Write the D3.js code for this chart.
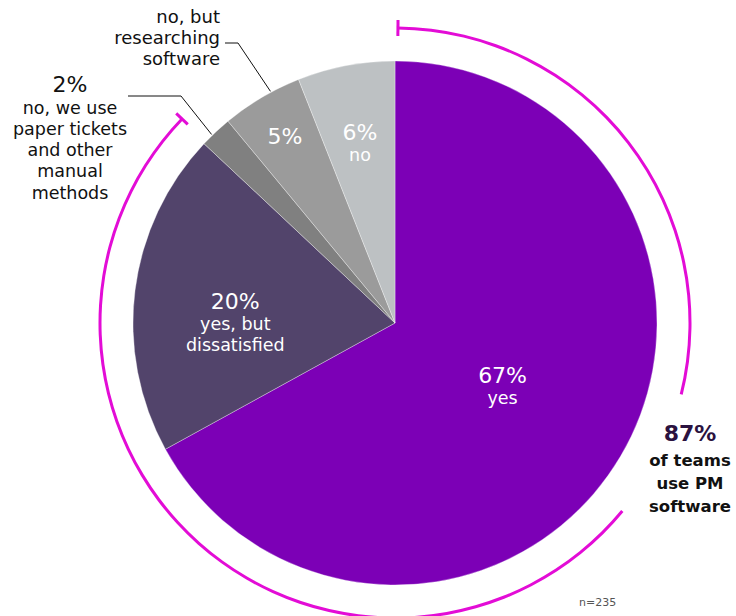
<!DOCTYPE html>
<html><head><meta charset="utf-8">
<script src="https://cdn.jsdelivr.net/npm/d3@7"></script>
<style>
html,body{margin:0;padding:0;background:#fff;}
svg{display:block;font-family:"DejaVu Sans",sans-serif;}
</style></head>
<body><svg id="chart" width="736" height="616"></svg>
<script>
const categories = ["yes", "yes, but dissatisfied", "no, we use paper tickets and other manual methods", "no, but researching software", "no"];
const values = [67, 20, 2, 5, 6];
const colors = ["#7C00B6", "#52446B", "#808080", "#9B9B9B", "#BDC1C3"];
const pctLabels = ["67%", "20%", "2%", "5%", "6%"];
const innerText = [["yes"], ["yes, but", "dissatisfied"], [], [], ["no"]];
const softwareShare = 87;
const sampleNote = "n=235";

const svg = d3.select("#chart");
const cx = 395, cy = 323, R = 262;
const g = svg.append("g").attr("transform", `translate(${cx},${cy})`);

const pie = d3.pie().sort(null).value(d => d)(values);
const arc = d3.arc().innerRadius(0).outerRadius(R);

g.selectAll("path.slice").data(pie).join("path")
  .attr("class", "slice")
  .attr("d", arc)
  .attr("fill", (d, i) => colors[i])
  .attr("stroke", "rgba(255,255,255,0.55)")
  .attr("stroke-width", 0.6);

// inside labels (separate text elements per line)
const labelR = [125, 161, 0, 216, 187];
pie.forEach((d, i) => {
  if (i === 2) return;
  const c = d3.arc().innerRadius(labelR[i]).outerRadius(labelR[i]).centroid(d);
  const n = innerText[i].length;
  const baseY = c[1] - (n * 21) / 2 + 7 + (i === 1 ? 20 : 0) + (i === 4 ? 4 : 0);
  g.append("text").attr("text-anchor", "middle").attr("fill", "#fff")
    .attr("x", c[0]).attr("y", baseY).attr("font-size", 22).text(pctLabels[i]);
  innerText[i].forEach((line, k) => {
    g.append("text").attr("text-anchor", "middle").attr("fill", "#fff")
      .attr("x", c[0]).attr("y", baseY + 21 + k * 21).attr("font-size", 17.5).text(line);
  });
});

// outside labels
const outer = svg.append("g").attr("fill", "#111");
["no, but", "researching", "software"].forEach((l, k) =>
  outer.append("text").attr("text-anchor", "end").attr("font-size", 18)
    .attr("x", 220).attr("y", 23 + k * 21).text(l));
outer.append("text").attr("text-anchor", "middle").attr("x", 70).attr("y", 92)
  .attr("font-size", 22).text(pctLabels[2]);
["no, we use", "paper tickets", "and other", "manual", "methods"].forEach((l, k) =>
  outer.append("text").attr("text-anchor", "middle").attr("font-size", 17.5)
    .attr("x", 70).attr("y", 113.5 + k * 21.3).text(l));

// leader lines from slice edges
function edgePoint(d, r, f) {
  const a = d.startAngle + f * (d.endAngle - d.startAngle);
  return [cx + r * Math.sin(a), cy - r * Math.cos(a)];
}
const pRes = edgePoint(pie[3], R + 1, 0.63);
const pPap = edgePoint(pie[2], R + 1, 0.36);
const line = d3.line();
svg.append("path").attr("d", line([[225, 43], [238, 43], pRes]))
  .attr("fill", "none").attr("stroke", "#111").attr("stroke-width", 1);
svg.append("path").attr("d", line([[128, 96], [181, 96], pPap]))
  .attr("fill", "none").attr("stroke", "#111").attr("stroke-width", 1);

// 87% bracket arc
const AR = 295;
const offset = 0.01;
const totalEnd = offset + softwareShare / 100 * 2 * Math.PI;
const gapStart = 104 * Math.PI / 180, gapEnd = 129.6 * Math.PI / 180;
const ring = d3.arc().innerRadius(AR - 1.5).outerRadius(AR + 1.5);
const mag = "#E30CD6";
g.append("path").attr("d", ring({startAngle: offset, endAngle: gapStart})).attr("fill", mag);
g.append("path").attr("d", ring({startAngle: gapEnd, endAngle: totalEnd})).attr("fill", mag);
[offset, totalEnd].forEach(a => {
  g.append("line")
    .attr("x1", (AR - 8) * Math.sin(a)).attr("y1", -(AR - 8) * Math.cos(a))
    .attr("x2", (AR + 8) * Math.sin(a)).attr("y2", -(AR + 8) * Math.cos(a))
    .attr("stroke", mag).attr("stroke-width", 3);
});

// 87% label
svg.append("text").attr("text-anchor", "middle").attr("font-weight", 700)
  .attr("x", 690).attr("y", 441).attr("font-size", 22).attr("fill", "#2B1240").text(softwareShare + "%");
["of teams", "use PM", "software"].forEach((l, k) =>
  svg.append("text").attr("text-anchor", "middle").attr("font-weight", 700)
    .attr("x", 690).attr("y", 466 + k * 23).attr("font-size", 16.5).attr("fill", "#111").text(l));

svg.append("text").attr("x", 579).attr("y", 606).attr("font-size", 11).attr("fill", "#555").text(sampleNote);
</script>
</body></html>
